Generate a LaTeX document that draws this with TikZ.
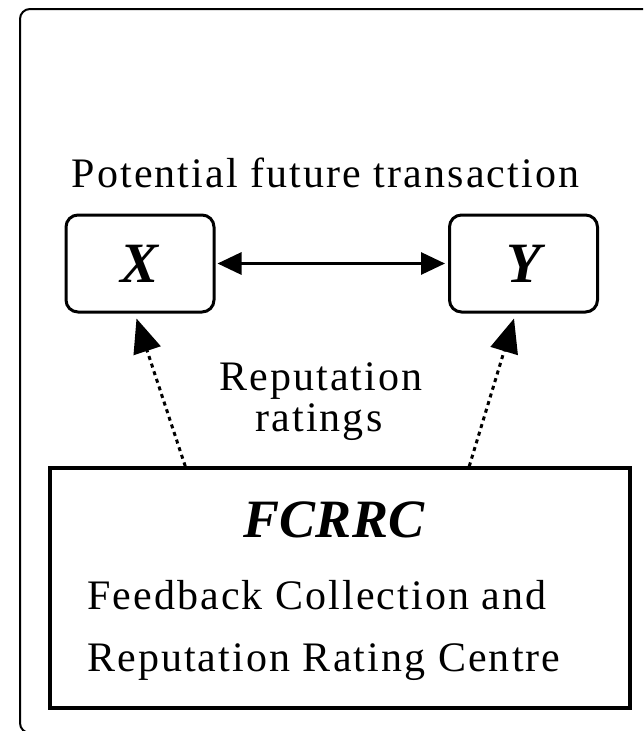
\documentclass[tikz,border=0pt]{standalone}
\usepackage{fontspec}
\setmainfont{Liberation Serif}
\newfontfamily\labfont[LetterSpace=5]{Liberation Serif}
\usetikzlibrary{arrows.meta,calc}
\begin{document}
\begin{tikzpicture}[x=1pt,y=-1pt,
  lab/.style={inner sep=0pt, anchor=base, font=\labfont\fontsize{42}{48}\selectfont},
  letterbox/.style={draw, line width=3pt, rounded corners=12pt, minimum width=148pt, minimum height=97pt, inner sep=0pt,
     font=\fontsize{57}{60}\selectfont\bfseries\itshape},
  centrebox/.style={draw, line width=3.5pt, minimum width=580pt, minimum height=240pt, inner sep=0pt},
  solidarrow/.style={line width=3pt, {Triangle[length=24pt,width=22pt]}-{Triangle[length=24pt,width=22pt]}},
  dotarrow/.style={line width=3pt, dash pattern=on 4pt off 4pt, -{Triangle[length=34pt,width=28pt]}}
]
\useasboundingbox (0,0) rectangle (643,731);
\clip (0,0) rectangle (643,731);
\fill[white] (0,0) rectangle (643,731);

% outer frame (partly cut off)
\draw[line width=2pt, rounded corners=10pt] (680,9) -- (20,9) -- (20,733) -- (680,733);

% nodes
\node[letterbox] (xb) at (140,263.5) {X};
\node[letterbox] (yb) at (523.5,263.5) {Y};
\node[centrebox] (fc) at (340,588) {};

\node[lab] (pft) at (325.5,187) {Potential future transaction};
\node[lab] (rep1) at (321,390) {Reputation};
\node[lab] (rep2) at (319,431) {ratings};

\node[inner sep=0pt, anchor=base, font=\fontsize{54}{60}\selectfont\bfseries\itshape] (fcname) at (334,537) {FCRRC};
\node[lab, anchor=base west] (fc1) at (87,609) {Feedback Collection and};
\node[lab, anchor=base west] (fc2) at (87,671) {Reputation Rating Centre};

% connectors
\draw[solidarrow, shorten <=2pt, shorten >=3pt] (xb.east) -- (yb.west);

\coordinate (s1) at ($(fc.north west)+(137,0)$);
\coordinate (s2) at ($(fc.north west)+(421,0)$);
\coordinate (t1) at ($(xb.south west)+(72,5)$);
\coordinate (t2) at ($(yb.south west)+(66,5)$);
\draw[dotarrow] (s1) -- (t1);
\draw[dotarrow] (s2) -- (t2);
\end{tikzpicture}
\end{document}
